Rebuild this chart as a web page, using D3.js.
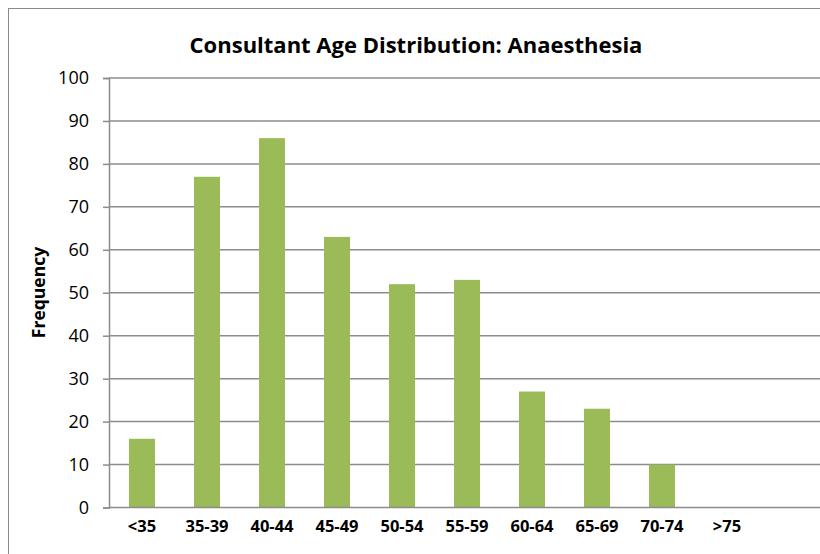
<!DOCTYPE html>
<html><head><meta charset="utf-8">
<script src="https://cdn.jsdelivr.net/npm/d3@7"></script>
<style>body{margin:0;background:#fff}svg{display:block}</style>
</head><body><svg id="c" width="820" height="554"></svg>
<script>
const categories = ["<35","35-39","40-44","45-49","50-54","55-59","60-64","65-69","70-74",">75"];
const frequency = [16,77,86,63,52,53,27,23,10,0];
const yTicks = [0,10,20,30,40,50,60,70,80,90,100];
const title = "Consultant Age Distribution: Anaesthesia";
const yTitle = "Frequency";

const svg = d3.select("#c");
const font = "'Open Sans', sans-serif";
svg.append("rect").attr("x",8.5).attr("y",8.5).attr("width",830).attr("height",560)
  .attr("fill","#fff").attr("stroke","#8a8a8a").attr("stroke-width",1);

const x = d3.scaleBand().domain(categories).range([109.5,759.5]).paddingInner(0.6).paddingOuter(0.3);
const y = d3.scaleLinear().domain([0,100]).range([507.5,78]);

const grid = svg.append("g");
grid.selectAll("line").data(yTicks.filter(d=>d>0)).join("line")
  .attr("x1",109).attr("x2",820).attr("y1",d=>y(d)).attr("y2",d=>y(d))
  .attr("stroke","#8c8c8c").attr("stroke-width",1.5);

svg.append("g").selectAll("rect").data(frequency).join("rect")
  .attr("x",(d,i)=>x(categories[i])).attr("width",x.bandwidth())
  .attr("y",d=>y(d)).attr("height",d=>y(0)-y(d)).attr("fill","#9BBB59");

const ya = svg.append("g").attr("transform","translate(109,0)")
  .call(d3.axisLeft(y).tickValues(yTicks).tickSize(6).tickPadding(14).tickFormat(d3.format("d")));
ya.select(".domain").attr("stroke","#8c8c8c").attr("stroke-width",1.5);
ya.selectAll(".tick line").attr("stroke","#8c8c8c").attr("stroke-width",1.5);
ya.selectAll("text").attr("font-family",font).attr("font-size",18).attr("fill","#000");

const xa = svg.append("g").attr("transform","translate(0,507.5)")
  .call(d3.axisBottom(x).tickSize(0).tickPadding(13));
xa.select(".domain").remove();
svg.append("line").attr("x1",109).attr("x2",820).attr("y1",507.5).attr("y2",507.5)
  .attr("stroke","#8c8c8c").attr("stroke-width",1.5);
xa.selectAll("text").attr("font-family",font).attr("font-size",16.5).attr("font-weight","bold").attr("fill","#000");

svg.append("text").attr("x",416).attr("y",53).attr("text-anchor","middle")
  .attr("font-family",font).attr("font-size",22).attr("font-weight","bold").text(title);
svg.append("text").attr("transform","translate(45,292.5) rotate(-90)").attr("text-anchor","middle")
  .attr("font-family",font).attr("font-size",17.5).attr("font-weight","bold").text(yTitle);
</script></body></html>
